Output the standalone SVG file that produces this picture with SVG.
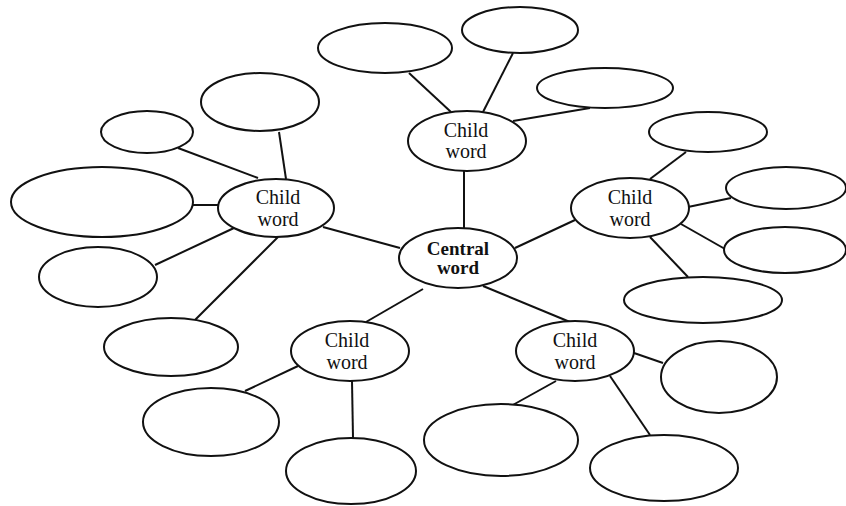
<svg xmlns="http://www.w3.org/2000/svg" width="846" height="506" viewBox="0 0 846 506">
<style>
ellipse{fill:#fff;stroke:#111;stroke-width:2}
#connectors line{stroke:#111;stroke-width:2}
text{font-family:"Liberation Serif","Times New Roman",serif;fill:#111;text-anchor:middle}
.c{font-size:20px}
.b{font-size:19px;font-weight:bold}
</style>
<rect width="846" height="506" fill="#fff"/>
<g id="connectors">
<line x1="409" y1="73" x2="451" y2="112"/>
<line x1="513" y1="53" x2="483" y2="112"/>
<line x1="590" y1="108" x2="513" y2="121"/>
<line x1="464" y1="170" x2="464" y2="228"/>
<line x1="178" y1="148" x2="258" y2="178"/>
<line x1="279" y1="132" x2="286" y2="179"/>
<line x1="193" y1="205" x2="218" y2="205"/>
<line x1="155" y1="265" x2="234" y2="228"/>
<line x1="194" y1="321" x2="278" y2="237"/>
<line x1="323" y1="227" x2="400" y2="248"/>
<line x1="515" y1="248" x2="575" y2="220"/>
<line x1="686" y1="152" x2="650" y2="179"/>
<line x1="688" y1="207" x2="731" y2="198"/>
<line x1="681" y1="224" x2="725" y2="249"/>
<line x1="688" y1="277" x2="650" y2="237"/>
<line x1="423" y1="289" x2="366" y2="322"/>
<line x1="245" y1="391" x2="298" y2="366"/>
<line x1="352" y1="381" x2="353" y2="438"/>
<line x1="483" y1="286" x2="570" y2="322"/>
<line x1="634" y1="353" x2="663" y2="363"/>
<line x1="556" y1="381" x2="511" y2="406"/>
<line x1="610" y1="376" x2="650" y2="435"/>
</g>
<g id="central"><ellipse cx="458" cy="258" rx="59" ry="30"/><text class="b" x="458" y="255">Central</text><text class="b" x="458" y="274">word</text></g>
<g id="child-top"><ellipse cx="467" cy="141" rx="59" ry="30"/><text class="c" x="466" y="137">Child</text><text class="c" x="466" y="158">word</text></g>
<g id="child-left"><ellipse cx="276" cy="208" rx="58" ry="29"/><text class="c" x="278" y="204">Child</text><text class="c" x="278" y="226">word</text></g>
<g id="child-right"><ellipse cx="630" cy="208" rx="59" ry="30"/><text class="c" x="630" y="204">Child</text><text class="c" x="630" y="226">word</text></g>
<g id="child-bottom-left"><ellipse cx="350" cy="351" rx="59" ry="30"/><text class="c" x="347" y="347">Child</text><text class="c" x="347" y="369">word</text></g>
<g id="child-bottom-right"><ellipse cx="575" cy="351" rx="59" ry="30"/><text class="c" x="575" y="347">Child</text><text class="c" x="575" y="369">word</text></g>
<g id="leaf-t1"><ellipse cx="385" cy="48" rx="67" ry="25"/></g>
<g id="leaf-t2"><ellipse cx="520" cy="30" rx="58" ry="23"/></g>
<g id="leaf-t3"><ellipse cx="605" cy="88" rx="68" ry="20"/></g>
<g id="leaf-l1"><ellipse cx="147" cy="132" rx="46" ry="21"/></g>
<g id="leaf-l2"><ellipse cx="260" cy="102" rx="59" ry="29"/></g>
<g id="leaf-l3"><ellipse cx="102" cy="202" rx="91" ry="35"/></g>
<g id="leaf-l4"><ellipse cx="98" cy="277" rx="59" ry="30"/></g>
<g id="leaf-l5"><ellipse cx="171" cy="347" rx="67" ry="29"/></g>
<g id="leaf-r1"><ellipse cx="708" cy="132" rx="59" ry="20"/></g>
<g id="leaf-r2"><ellipse cx="786" cy="188" rx="60" ry="21"/></g>
<g id="leaf-r3"><ellipse cx="785" cy="250" rx="61" ry="23"/></g>
<g id="leaf-r4"><ellipse cx="703" cy="300" rx="79" ry="23"/></g>
<g id="leaf-bl1"><ellipse cx="211" cy="422" rx="68" ry="34"/></g>
<g id="leaf-bl2"><ellipse cx="351" cy="471" rx="65" ry="33"/></g>
<g id="leaf-br1"><ellipse cx="719" cy="377" rx="58" ry="36"/></g>
<g id="leaf-br2"><ellipse cx="501" cy="440" rx="77" ry="36"/></g>
<g id="leaf-br3"><ellipse cx="664" cy="468" rx="74" ry="33"/></g>
</svg>
